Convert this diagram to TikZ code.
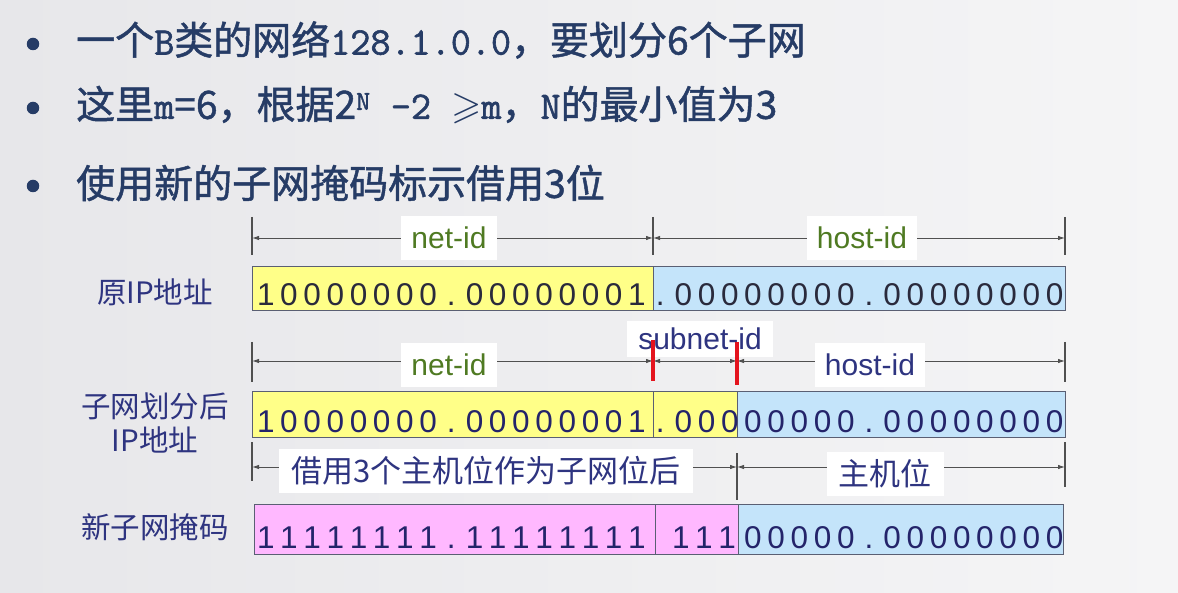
\documentclass[tikz,border=0pt]{standalone}
\usepackage{fontspec}
\usepackage{amssymb}
\setmainfont{Liberation Sans}
\newfontfamily\cjk{Noto Sans CJK SC}
\newfontfamily\cjkb[FakeBold=1.2]{Noto Sans CJK SC}
\newfontfamily\latf[FakeBold=1.5]{Latin Modern Mono}
\usetikzlibrary{arrows.meta}
\definecolor{bgA}{HTML}{E7E7EA}
\definecolor{bgB}{HTML}{F5F5F6}
\definecolor{bnavy}{HTML}{263C66}
\definecolor{lnavy}{HTML}{2E3480}
\definecolor{dig}{HTML}{24246A}
\definecolor{digA}{HTML}{2A2A3C}
\definecolor{yel}{HTML}{FFFF88}
\definecolor{blu}{HTML}{C4E4FA}
\definecolor{pnk}{HTML}{FFB8FF}
\definecolor{edge}{HTML}{5A5F73}
\definecolor{tickc}{HTML}{505050}
\definecolor{grn}{HTML}{4F7A22}
\definecolor{redm}{HTML}{E4141E}
\newlength\bitw \setlength\bitw{23.2pt}
\def\bitsloop#1{\ifx#1\relax\else\makebox[\bitw][c]{#1}\expandafter\bitsloop\fi}
\newcommand\bitstr[1]{\bitsloop#1\relax}
\newcommand\bitfont{\fontsize{31.5}{32}\selectfont}
\newcommand\labfont{\fontsize{30}{30}\selectfont}
\newcommand\cjklabfont{\cjk\fontsize{31}{32}\selectfont}
\newcommand\rowfont{\cjk\fontsize{29.5}{32}\selectfont}
\newcommand\bulfont{\cjkb\fontsize{39}{44}\selectfont}
\newcommand\lat[1]{{\fontsize{39}{44}\latf #1}}
\tikzset{
 seg/.style={draw=edge, line width=1.3pt, inner sep=0, anchor=north west},
 bits/.style={inner sep=0, anchor=base west, font=\bitfont, text=dig},
 lab/.style={fill=white, inner xsep=10pt, inner ysep=0, minimum height=44pt, font=\labfont},
 cjklab/.style={lab, font=\cjklabfont, text=lnavy, inner xsep=12pt},
 tk/.style={draw=tickc, line width=1.1pt},
 dim/.style={draw=tickc, line width=0.9pt, {Latex[length=7pt,width=4.5pt]}-{Latex[length=7pt,width=4.5pt]}},
 redmark/.style={draw=redm, line width=3.5pt},
 rowlab/.style={font=\rowfont, text=lnavy, inner sep=0},
 bul/.style={circle, fill=bnavy, inner sep=0, minimum size=12.5pt},
 bultext/.style={font=\bulfont, text=bnavy, anchor=west, inner sep=0},
}
\begin{document}
\begin{tikzpicture}[x=1pt,y=-1pt]
\useasboundingbox (0,0) rectangle (1178,593);
\shade[left color=bgA, right color=bgB] (0,0) rectangle (1178,593);

% bullets
\node[bul] (b1) at (33,44) {};
\node[bul] (b2) at (33,108) {};
\node[bul] (b3) at (33,186) {};
\node[bultext] (s1) at (76,40) {一个\lat{B}类的网络\lat{128.1.0.0}，要划分6个子网};
\node[bultext] (s2) at (76,105) {这里\lat{m}=6，根据2\lat{\textsuperscript{N} -2 }$\geqslant$\lat{m}，\lat{N}的最小值为3};
\node[bultext] (s3) at (76,183) {使用新的子网掩码标示借用3位};

% row labels
\node[rowlab] (L1) at (155,292) {原IP地址};
\node[rowlab] (L2a) at (155,406) {子网划分后};
\node[rowlab] (L2b) at (155,440) {IP地址};
\node[rowlab] (L3) at (155,527) {新子网掩码};

% ---------- row 1 ----------
\node[seg, fill=yel, minimum width=401pt, minimum height=44pt] (r1a) at (252,266) {};
\node[seg, fill=blu, minimum width=412pt, minimum height=44pt] (r1b) at (653,266) {};
\node[bits, text=digA] (t1a) at (254,306) {\bitstr{10000000.00000001}};
\node[bits, text=digA] (t1b) at (648.4,306) {\bitstr{.00000000.00000000}};

\draw[tk] (252,217) -- (252,255);
\draw[tk] (653,217) -- (653,255);
\draw[tk] (1065,217) -- (1065,255);
\coordinate (d1a) at (252,238);
\coordinate (d1b) at (653,238);
\coordinate (d1c) at (1065,238);
\draw[dim] (d1a) -- (d1b);
\draw[dim] (d1b) -- (d1c);
\node[lab, text=grn] (n1) at (449,238) {net-id};
\node[lab, text=grn] (h1) at (862,238) {host-id};

% ---------- row 2 ----------
\node[seg, fill=yel, minimum width=401pt, minimum height=46pt] (r2a) at (252,391) {};
\node[seg, fill=yel, minimum width=84pt, minimum height=46pt] (r2b) at (653,391) {};
\node[seg, fill=blu, minimum width=328pt, minimum height=46pt] (r2c) at (737,391) {};
\node[bits] (t2a) at (254,432) {\bitstr{10000000.00000001}};
\node[bits] (t2b) at (648.4,432) {\bitstr{.000}};
\node[bits] (t2c) at (741.2,432) {\bitstr{00000.00000000}};

\node[lab, text=lnavy, minimum height=36pt, inner xsep=11pt] (sn) at (700,339) {subnet-id};
\draw[tk] (252,342) -- (252,382);
\draw[tk] (1065,342) -- (1065,382);
\coordinate (d2a) at (252,361);
\coordinate (d2b) at (653,361);
\coordinate (d2c) at (737,361);
\coordinate (d2d) at (1065,361);
\draw[dim] (d2a) -- (d2b);
\draw[dim] (d2b) -- (d2c);
\draw[dim] (d2c) -- (d2d);
\node[lab, text=grn] (n2) at (449,365) {net-id};
\node[lab, text=lnavy] (h2) at (870,365) {host-id};
\draw[redmark] (653,340) -- (653,381);
\draw[redmark] (737,342) -- (737,385);

% ---------- row 3 ----------
\node[seg, fill=pnk, minimum width=401pt, minimum height=50pt] (r3a) at (254,504) {};
\node[seg, fill=pnk, minimum width=83pt, minimum height=50pt] (r3b) at (655,504) {};
\node[seg, fill=blu, minimum width=325pt, minimum height=50pt] (r3c) at (738,504) {};
\node[bits] (t3a) at (254,548) {\bitstr{11111111.11111111}};
\node[bits] (t3b) at (669,548) {\bitstr{111}};
\node[bits] (t3c) at (741.2,548) {\bitstr{00000.00000000}};

\draw[tk] (252,442) -- (252,481);
\draw[tk] (737,453) -- (737,500);
\draw[tk] (1065,442) -- (1065,487);
\coordinate (d3a) at (252,467);
\coordinate (d3b) at (737,467);
\coordinate (d3c) at (1065,467);
\draw[dim] (d3a) -- (d3b);
\draw[dim] (d3b) -- (d3c);
\node[cjklab] (bl) at (486,471) {借用3个主机位作为子网位后};
\node[cjklab] (zj) at (885,474) {主机位};
\end{tikzpicture}
\end{document}
